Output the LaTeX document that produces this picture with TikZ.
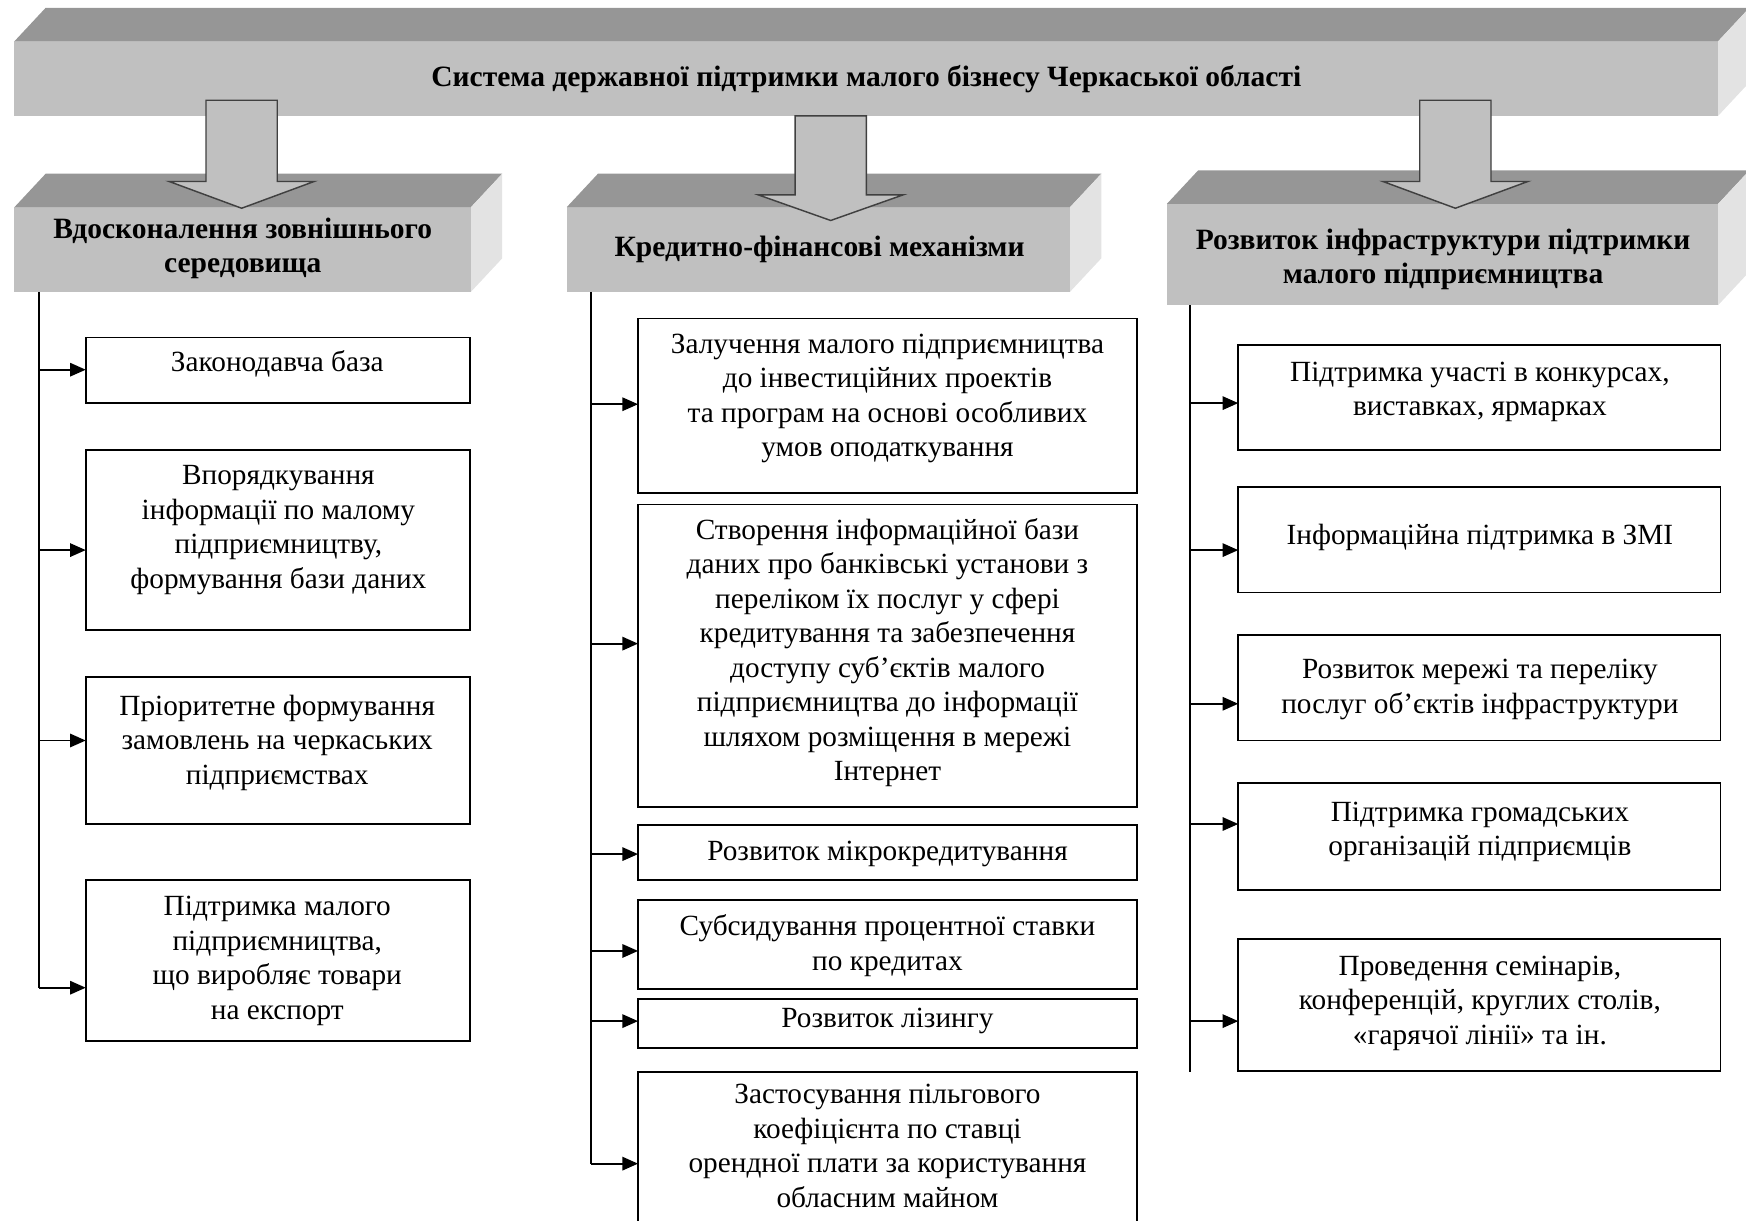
\documentclass[tikz,border=0pt]{standalone}
\usepackage{fontspec}
\setmainfont{Liberation Serif}
\usetikzlibrary{arrows.meta,calc}
\definecolor{frontc}{HTML}{C0C0C0}
\definecolor{topc}{HTML}{969696}
\definecolor{sidec}{HTML}{E3E3E3}
\definecolor{arrc}{HTML}{404040}
\newcommand\blockarr[4]{%
  \filldraw[fill=frontc, draw=arrc, line width=1.3pt, line join=miter]
    (#1-32,#2) -- (#1+32,#2) -- (#1+32,#3) -- (#1+65,#3) -- (#1,#4)
    -- (#1-65,#3) -- (#1-32,#3) -- cycle;}
\newcommand\faces[1]{%
  \fill[topc] (#1.north west) -- ++(28,-30) -- ($(#1.north east)+(28,-30)$) -- (#1.north east) -- cycle;
  \fill[sidec] (#1.north east) -- ++(28,-30) -- ($(#1.south east)+(28,-30)$) -- (#1.south east) -- cycle;}
\tikzset{
  front/.style={fill=frontc, inner sep=0pt, outer sep=0pt, anchor=north west},
  box/.style={draw=black, line width=1.6pt, inner sep=0pt, outer sep=0pt, anchor=north west},
  txt/.style={align=center, inner sep=0pt, font=\fontsize{26.3}{31}\selectfont},
  htxt/.style={align=center, inner sep=0pt, font=\fontsize{26.5}{31}\selectfont\bfseries},
  trunk/.style={draw=black, line width=1.8pt},
  conn/.style={draw=black, line width=1.6pt, -{Triangle[length=14pt,width=12pt]}},
}
\begin{document}
\begin{tikzpicture}[x=1pt,y=-1pt]
\useasboundingbox (0,0) rectangle (1568,1096);
\clip (0,0) rectangle (1568,1096);

% top bar
\node[front, minimum width=1530pt, minimum height=67pt] (top) at (13,37) {};
\faces{top}
\node[htxt] (topt) at (778,71) {Система державної підтримки малого бізнесу Черкаської області};

% headers
\node[front, minimum width=410pt, minimum height=76pt] (h1) at (13,186) {};
\faces{h1}
\node[front, minimum width=452pt, minimum height=76pt] (h2) at (509,186) {};
\faces{h2}
\node[front, minimum width=495pt, minimum height=91pt] (h3) at (1048,183) {};
\faces{h3}

\blockarr{217}{90}{163}{187}
\blockarr{746}{104}{175}{198}
\blockarr{1307}{90}{163}{187}

\node[htxt] (h1t) at (218,223) {Вдосконалення зовнішнього\\середовища};
\node[htxt] (h2t) at (736,224) {Кредитно-фінансові механізми};
\node[htxt] (h3t) at (1296,233) {Розвиток інфраструктури підтримки\\малого підприємництва};

% left column
\node[box, minimum width=345pt, minimum height=59pt] (l1) at (77,303) {};
\node[txt] (l1t) at (249,327) {Законодавча база};
\node[box, minimum width=345pt, minimum height=162pt] (l2) at (77,404) {};
\node[txt] (l2t) at (250,476) {Впорядкування\\інформації по малому\\підприємництву,\\формування бази даних};
\node[box, minimum width=345pt, minimum height=132pt] (l3) at (77,608) {};
\node[txt] (l3t) at (249,667) {Пріоритетне формування\\замовлень на черкаських\\підприємствах};
\node[box, minimum width=345pt, minimum height=145pt] (l4) at (77,790) {};
\node[txt] (l4t) at (249,863) {Підтримка малого\\підприємництва,\\що виробляє товари\\на експорт};

\coordinate (al1) at (35,332);
\coordinate (al2) at (35,494);
\coordinate (al3) at (35,665);
\coordinate (al4) at (35,887);
\draw[trunk] (h1.south -| al1) -- (al4);
\foreach \a/\b in {al1/l1,al2/l2,al3/l3,al4/l4} \draw[conn] (\a) -- (\a -| \b.west);

% middle column
\node[box, minimum width=448pt, minimum height=157pt] (m1) at (573,286) {};
\node[txt] (m1t) at (797,358) {Залучення малого підприємництва\\до інвестиційних проектів\\та програм на основі особливих\\умов оподаткування};
\node[box, minimum width=448pt, minimum height=272pt] (m2) at (573,453) {};
\node[txt] (m2t) at (797,586) {Створення інформаційної бази\\даних про банківські установи з\\переліком їх послуг у сфері\\кредитування та забезпечення\\доступу суб’єктів малого\\підприємництва до інформації\\шляхом розміщення в мережі\\Інтернет};
\node[box, minimum width=448pt, minimum height=49pt] (m3) at (573,741) {};
\node[txt] (m3t) at (797,767) {Розвиток мікрокредитування};
\node[box, minimum width=448pt, minimum height=80pt] (m4) at (573,808) {};
\node[txt] (m4t) at (797,849) {Субсидування процентної ставки\\по кредитах};
\node[box, minimum width=448pt, minimum height=44pt] (m5) at (573,897) {};
\node[txt] (m5t) at (797,917) {Розвиток лізингу};
\node[box, minimum width=448pt, minimum height=160pt] (m6) at (573,963) {};
\node[txt] (m6t) at (797,1029) {Застосування пільгового\\коефіцієнта по ставці\\орендної плати за користування\\обласним майном};

\coordinate (am1) at (531,363);
\coordinate (am2) at (531,578);
\coordinate (am3) at (531,767);
\coordinate (am4) at (531,854);
\coordinate (am5) at (531,917);
\coordinate (am6) at (531,1045);
\draw[trunk] (h2.south -| am1) -- (am6);
\foreach \a/\b in {am1/m1,am2/m2,am3/m3,am4/m4,am5/m5,am6/m6} \draw[conn] (\a) -- (\a -| \b.west);

% right column
\node[box, minimum width=433pt, minimum height=94pt] (r1) at (1112,310) {};
\node[txt] (r1t) at (1329,352) {Підтримка участі в конкурсах,\\виставках, ярмарках};
\node[box, minimum width=433pt, minimum height=95pt] (r2) at (1112,437) {};
\node[txt] (r2t) at (1329,483) {Інформаційна підтримка в ЗМІ};
\node[box, minimum width=433pt, minimum height=95pt] (r3) at (1112,570) {};
\node[txt] (r3t) at (1329,619) {Розвиток мережі та переліку\\послуг об’єктів інфраструктури};
\node[box, minimum width=433pt, minimum height=96pt] (r4) at (1112,703) {};
\node[txt] (r4t) at (1329,747) {Підтримка громадських\\організацій підприємців};
\node[box, minimum width=433pt, minimum height=119pt] (r5) at (1112,843) {};
\node[txt] (r5t) at (1329,901) {Проведення семінарів,\\конференцій, круглих столів,\\«гарячої лінії» та ін.};

\coordinate (ar1) at (1069,362);
\coordinate (ar2) at (1069,494);
\coordinate (ar3) at (1069,632);
\coordinate (ar4) at (1069,740);
\coordinate (ar5) at (1069,917);
\coordinate (arend) at (1069,963);
\draw[trunk] (h3.south -| ar1) -- (arend);
\foreach \a/\b in {ar1/r1,ar2/r2,ar3/r3,ar4/r4,ar5/r5} \draw[conn] (\a) -- (\a -| \b.west);
\end{tikzpicture}
\end{document}
